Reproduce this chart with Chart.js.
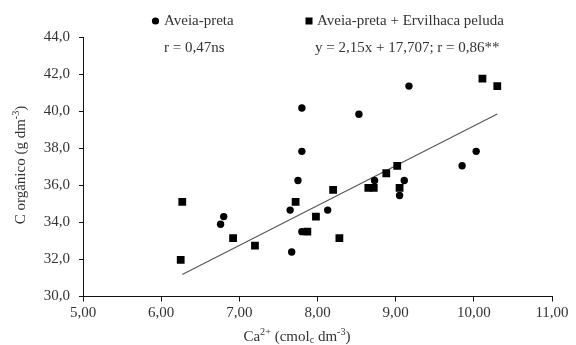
<!DOCTYPE html>
<html>
<head>
<meta charset="utf-8">
<script src="https://cdn.jsdelivr.net/npm/chart.js@4"></script>
<style>
  html, body { margin: 0; padding: 0; background: #fff; }
  #wrap { width: 576px; height: 345px; }
</style>
</head>
<body>
<div id="wrap"><canvas id="grafico"></canvas></div>
<script>
// Aveia-preta (circulos)
const aveiaX = [6.76, 6.80, 7.65, 7.75, 7.80, 7.80, 8.13, 8.73, 9.05, 9.11, 9.85, 10.03, 7.67, 7.80, 8.53, 9.17];
const aveiaY = [33.90, 34.31, 34.66, 36.26, 37.83, 33.50, 34.66, 36.26, 35.45, 36.26, 37.05, 37.83, 32.40, 40.17, 39.83, 41.35];

// Aveia-preta + Ervilhaca peluda (quadrados)
const consX = [6.27, 6.92, 7.72, 7.87, 7.98, 8.20, 8.28, 8.65, 8.72, 8.88, 9.02, 9.05, 6.25, 7.20, 10.11, 10.30];
const consY = [35.10, 33.15, 35.10, 33.50, 34.31, 35.75, 33.15, 35.86, 35.86, 36.65, 37.05, 35.86, 31.98, 32.75, 41.75, 41.35];

// reta de regressao (extremos)
const retaX = [6.27, 10.30];
const retaY = [31.19, 39.85];

const xTicks = [5, 6, 7, 8, 9, 10, 11];
const yTicks = [30, 32, 34, 36, 38, 40, 42, 44];

const FONTE = "'Liberation Serif', 'DejaVu Serif', serif";
const COR_TEXTO = "#333";
const TAM = 15;

function pares(xs, ys) {
  return xs.map((x, i) => ({ x: x, y: ys[i] }));
}

// texto com partes sobrescritas/subscritas, centrado em x
function textoComposto(ctx, partes, x, y, tam) {
  let largura = 0;
  partes.forEach(p => {
    ctx.font = (p.s ? tam * 0.68 : tam) + "px " + FONTE;
    p.w = ctx.measureText(p.t).width;
    largura += p.w;
  });
  let cx = x - largura / 2;
  partes.forEach(p => {
    ctx.font = (p.s ? tam * 0.68 : tam) + "px " + FONTE;
    let dy = 0;
    if (p.s === "sup") dy = -tam * 0.33;
    if (p.s === "sub") dy = tam * 0.22;
    ctx.fillText(p.t, cx, y + dy);
    cx += p.w;
  });
}

const textos = {
  id: "textos",
  afterDraw(chart) {
    const ctx = chart.ctx;
    ctx.save();
    ctx.textBaseline = "middle";
    ctx.textAlign = "left";

    // legenda
    ctx.fillStyle = "#000";
    ctx.beginPath();
    ctx.arc(155.5, 21, 3.6, 0, Math.PI * 2);
    ctx.fill();
    ctx.fillRect(305.5, 17.5, 7, 7);
    ctx.fillStyle = COR_TEXTO;
    ctx.font = TAM + "px " + FONTE;
    ctx.fillText("Aveia-preta", 164, 21);
    ctx.fillText("Aveia-preta + Ervilhaca peluda", 317, 21);
    ctx.fillText("r = 0,47ns", 164, 48);
    ctx.fillText("y = 2,15x + 17,707; r = 0,86**", 315, 48);

    // titulo eixo x
    textoComposto(ctx, [
      { t: "Ca" }, { t: "2+", s: "sup" }, { t: " (cmol" }, { t: "c", s: "sub" },
      { t: " dm" }, { t: "-3", s: "sup" }, { t: ")" }
    ], 297, 337, TAM);

    // titulo eixo y
    ctx.translate(21, 165);
    ctx.rotate(-Math.PI / 2);
    textoComposto(ctx, [
      { t: "C orgânico (g dm" }, { t: "-3", s: "sup" }, { t: ")" }
    ], 0, 0, TAM);
    ctx.restore();
  }
};

new Chart(document.getElementById("grafico"), {
  type: "scatter",
  data: {
    datasets: [
      {
        label: "Aveia-preta",
        data: pares(aveiaX, aveiaY),
        pointStyle: "circle",
        pointRadius: 3.7,
        backgroundColor: "#000",
        borderColor: "#000",
        borderWidth: 0
      },
      {
        label: "Aveia-preta + Ervilhaca peluda",
        data: pares(consX, consY),
        pointStyle: "rect",
        pointRadius: 5.5,
        backgroundColor: "#000",
        borderColor: "#000",
        borderWidth: 0
      },
      {
        type: "line",
        label: "reta",
        data: pares(retaX, retaY),
        borderColor: "#555",
        borderWidth: 1.1,
        pointRadius: 0,
        fill: false
      }
    ]
  },
  options: {
    responsive: true,
    maintainAspectRatio: false,
    animation: false,
    layout: { padding: { top: 37, right: 24, left: 0, bottom: 0 } },
    plugins: {
      legend: { display: false },
      tooltip: { enabled: false }
    },
    scales: {
      x: {
        type: "linear",
        min: 5,
        max: 11,
        afterBuildTicks(axis) { axis.ticks = xTicks.map(v => ({ value: v })); },
        afterFit(axis) { axis.height = 48.5; },
        border: { display: true, color: "#111", width: 1 },
        grid: { display: true, drawOnChartArea: false, drawTicks: true, tickLength: 5, color: "#111" },
        ticks: {
          color: COR_TEXTO,
          padding: 3,
          font: { family: FONTE, size: TAM },
          callback: v => v.toFixed(2).replace(".", ",")
        }
      },
      y: {
        type: "linear",
        min: 30,
        max: 44,
        afterBuildTicks(axis) { axis.ticks = yTicks.map(v => ({ value: v })); },
        afterFit(axis) { axis.width = 83; },
        border: { display: true, color: "#111", width: 1 },
        grid: { display: true, drawOnChartArea: false, drawTicks: true, tickLength: 4, color: "#111" },
        ticks: {
          color: COR_TEXTO,
          padding: 9,
          font: { family: FONTE, size: TAM },
          callback: v => v.toFixed(1).replace(".", ",")
        }
      }
    }
  },
  plugins: [textos]
});
</script>
</body>
</html>
